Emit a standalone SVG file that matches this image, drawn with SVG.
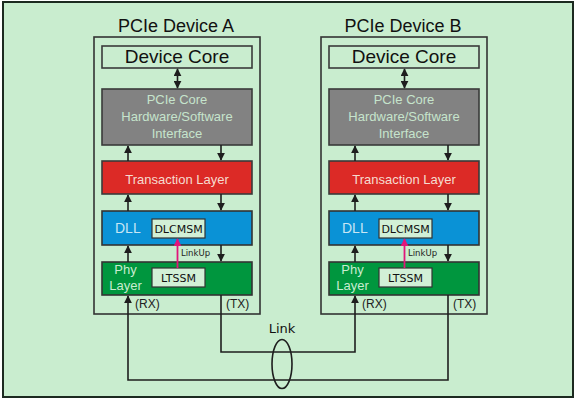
<svg xmlns="http://www.w3.org/2000/svg" width="576" height="400" viewBox="0 0 576 400">
<defs>
<marker id="ah" viewBox="0 0 10 10" refX="9" refY="5" markerWidth="8" markerHeight="8" markerUnits="userSpaceOnUse" orient="auto-start-reverse">
<path d="M0,0 L10,5 L0,10 Z" fill="#1e1e1e"/>
</marker>
<marker id="ahp" viewBox="0 0 10 10" refX="9" refY="5" markerWidth="8" markerHeight="8" markerUnits="userSpaceOnUse" orient="auto">
<path d="M0,0 L10,5 L0,10 Z" fill="#e0157a"/>
</marker>
<style>
.frame{fill:#c9edcf;stroke:#1c2a20;stroke-width:2}
.dev{fill:none;stroke:#333;stroke-width:1.6}
.title{font-family:"Liberation Sans",Arial,sans-serif;font-size:18px;fill:#111;text-anchor:middle}
.core{fill:#c9edcf;stroke:#3a3a3a;stroke-width:1.6}
.coret{font-family:"Liberation Sans",Arial,sans-serif;font-size:19px;fill:#111;text-anchor:middle}
.hw{fill:#828282;stroke:#3a3a3a;stroke-width:1.6}
.hwt{font-family:"Liberation Sans",Arial,sans-serif;font-size:13px;fill:#c6e4cc;text-anchor:middle}
.tl{fill:#dc2a26;stroke:#3a3a3a;stroke-width:1.6}
.tlt{font-family:"Liberation Sans",Arial,sans-serif;font-size:13px;fill:#f6dcd0;text-anchor:middle}
.dll{fill:#0a92d6;stroke:#333;stroke-width:1.6}
.dllt{font-family:"Liberation Sans",Arial,sans-serif;font-size:14px;fill:#c8e6f4}
.phy{fill:#00963e;stroke:#333;stroke-width:1.6}
.phyt{font-family:"Liberation Sans",Arial,sans-serif;font-size:13px;fill:#c8ecd0;text-anchor:middle}
.sm{fill:#d2f0d6;stroke:#333;stroke-width:1.2}
.smt{font-family:"DejaVu Sans",sans-serif;font-size:11px;fill:#111;text-anchor:middle}
.lbl{font-family:"Liberation Sans",Arial,sans-serif;font-size:12px;fill:#222}
.lu{font-family:"DejaVu Sans",sans-serif;font-size:8.5px;fill:#222}
.ln{fill:none;stroke:#1e1e1e;stroke-width:1.6}
.pk{fill:none;stroke:#e0157a;stroke-width:1.8}
.link{font-family:"DejaVu Sans",sans-serif;font-size:13px;fill:#111;text-anchor:middle}
</style>
</defs>
<rect class="frame" x="3" y="2" width="570" height="395"/>

<g id="deviceA">
<text class="title" x="176" y="32">PCIe Device A</text>
<rect class="dev" x="94" y="37" width="166" height="277"/>
</g>
<g id="coreA">
<rect class="core" x="102" y="46" width="150" height="22"/>
<text class="coret" x="177" y="63">Device Core</text>
</g>
<g id="hwA">
<rect class="hw" x="102" y="89" width="150" height="56"/>
<text class="hwt" x="177" y="104">PCIe Core</text>
<text class="hwt" x="177" y="121">Hardware/Software</text>
<text class="hwt" x="177" y="138">Interface</text>
</g>
<g id="tlA">
<rect class="tl" x="102" y="161" width="150" height="33"/>
<text class="tlt" x="177" y="184">Transaction Layer</text>
</g>
<g id="dllA">
<rect class="dll" x="102" y="211" width="150" height="34"/>
<text class="dllt" x="115" y="233">DLL</text>
</g>
<g id="dlcmsmA">
<rect class="sm" x="152" y="219" width="53" height="19"/>
<text class="smt" x="178.5" y="233">DLCMSM</text>
</g>
<g id="phyA">
<rect class="phy" x="102" y="262" width="150" height="33"/>
<text class="phyt" x="125.5" y="274">Phy</text>
<text class="phyt" x="125.5" y="289.5">Layer</text>
</g>
<g id="ltssmA">
<rect class="sm" x="152" y="268" width="53" height="19"/>
<text class="smt" x="178.5" y="282">LTSSM</text>
</g>
<text class="lu" x="181" y="256">LinkUp</text>
<text class="lbl" x="135" y="308">(RX)</text>
<text class="lbl" x="226" y="308">(TX)</text>

<g id="deviceB">
<text class="title" x="403" y="32">PCIe Device B</text>
<rect class="dev" x="321" y="37" width="166" height="277"/>
</g>
<g id="coreB">
<rect class="core" x="329" y="46" width="150" height="22"/>
<text class="coret" x="404" y="63">Device Core</text>
</g>
<g id="hwB">
<rect class="hw" x="329" y="89" width="150" height="56"/>
<text class="hwt" x="404" y="104">PCIe Core</text>
<text class="hwt" x="404" y="121">Hardware/Software</text>
<text class="hwt" x="404" y="138">Interface</text>
</g>
<g id="tlB">
<rect class="tl" x="329" y="161" width="150" height="33"/>
<text class="tlt" x="404" y="184">Transaction Layer</text>
</g>
<g id="dllB">
<rect class="dll" x="329" y="211" width="150" height="34"/>
<text class="dllt" x="342" y="233">DLL</text>
</g>
<g id="dlcmsmB">
<rect class="sm" x="379" y="219" width="53" height="19"/>
<text class="smt" x="405.5" y="233">DLCMSM</text>
</g>
<g id="phyB">
<rect class="phy" x="329" y="262" width="150" height="33"/>
<text class="phyt" x="352.5" y="274">Phy</text>
<text class="phyt" x="352.5" y="289.5">Layer</text>
</g>
<g id="ltssmB">
<rect class="sm" x="379" y="268" width="53" height="19"/>
<text class="smt" x="405.5" y="282">LTSSM</text>
</g>
<text class="lu" x="408" y="256">LinkUp</text>
<text class="lbl" x="362" y="308">(RX)</text>
<text class="lbl" x="453" y="308">(TX)</text>

<g id="linkLabel">
<text class="link" x="282" y="333">Link</text>
<ellipse cx="282" cy="364" rx="10" ry="24.5" fill="none" stroke="#1e1e1e" stroke-width="1.6"/>
</g>

<g id="connectors">
<line class="ln" x1="177.5" y1="69" x2="177.5" y2="88" marker-start="url(#ah)" marker-end="url(#ah)"/>
<line class="ln" x1="128" y1="161" x2="128" y2="146" marker-end="url(#ah)"/>
<line class="ln" x1="221" y1="145" x2="221" y2="160" marker-end="url(#ah)"/>
<line class="ln" x1="128" y1="211" x2="128" y2="195" marker-end="url(#ah)"/>
<line class="ln" x1="221" y1="194" x2="221" y2="210" marker-end="url(#ah)"/>
<line class="ln" x1="128" y1="262" x2="128" y2="246" marker-end="url(#ah)"/>
<line class="ln" x1="221" y1="245" x2="221" y2="261" marker-end="url(#ah)"/>
<line class="pk" x1="177.5" y1="268" x2="177.5" y2="239" marker-end="url(#ahp)"/>

<line class="ln" x1="404.5" y1="69" x2="404.5" y2="88" marker-start="url(#ah)" marker-end="url(#ah)"/>
<line class="ln" x1="355" y1="161" x2="355" y2="146" marker-end="url(#ah)"/>
<line class="ln" x1="448" y1="145" x2="448" y2="160" marker-end="url(#ah)"/>
<line class="ln" x1="355" y1="211" x2="355" y2="195" marker-end="url(#ah)"/>
<line class="ln" x1="448" y1="194" x2="448" y2="210" marker-end="url(#ah)"/>
<line class="ln" x1="355" y1="262" x2="355" y2="246" marker-end="url(#ah)"/>
<line class="ln" x1="448" y1="245" x2="448" y2="261" marker-end="url(#ah)"/>
<line class="pk" x1="404.5" y1="268" x2="404.5" y2="239" marker-end="url(#ahp)"/>

<path class="ln" d="M221,295 V352 H355 V296" marker-end="url(#ah)"/>
<path class="ln" d="M448,295 V380 H128 V296" marker-end="url(#ah)"/>
</g>
</svg>
